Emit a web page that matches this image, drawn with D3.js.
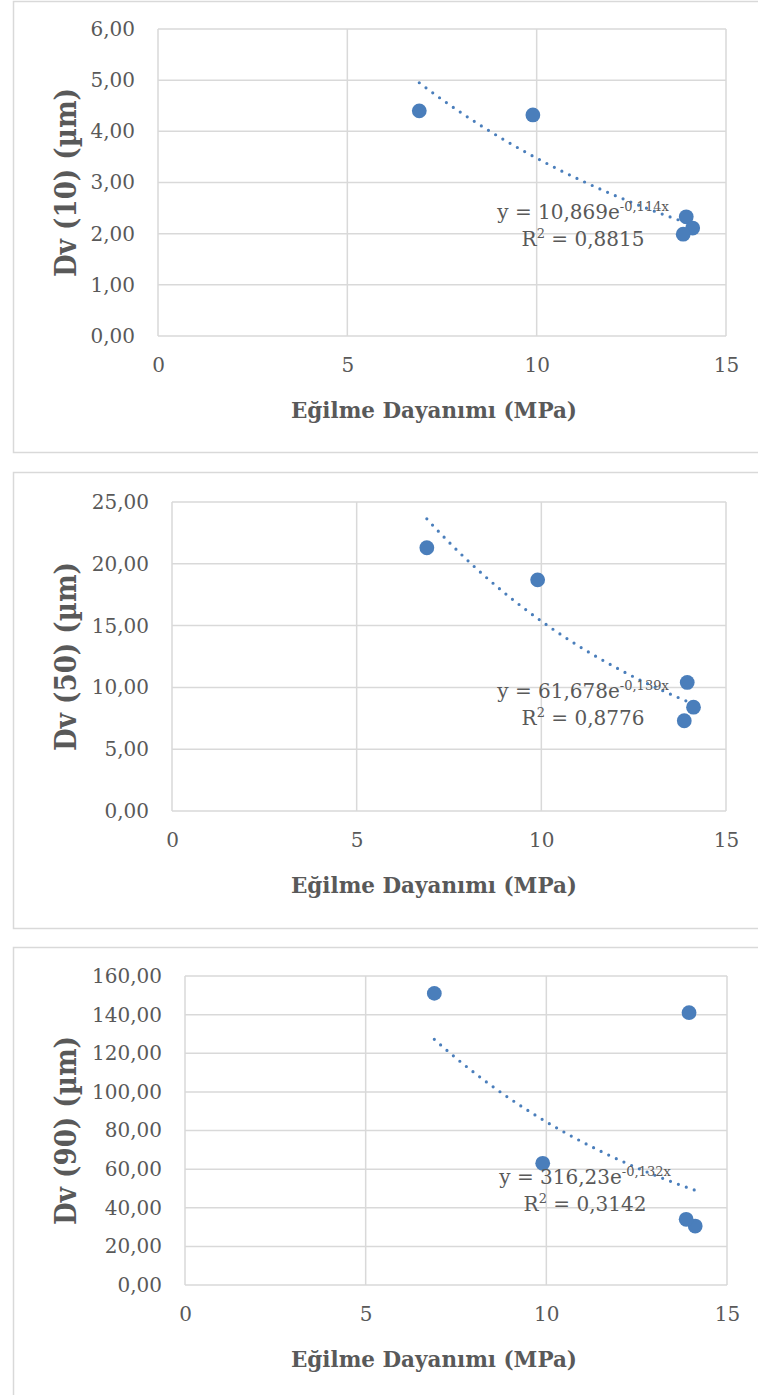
<!DOCTYPE html>
<html>
<head>
<meta charset="utf-8">
<script src="https://cdn.jsdelivr.net/npm/d3@7"></script>
<style>
  html, body { margin: 0; padding: 0; background: #fff; }
  svg { display: block; }
  text { font-family: "DejaVu Serif", "Liberation Serif", serif; fill: #595959; }
</style>
</head>
<body>
<svg id="chart" width="758" height="1395"></svg>
<script>
// Flexural strength of each sample (MPa), shared by all three panels
const strength = [6.9, 9.9, 13.95, 14.12, 13.87];

// Particle size percentiles (µm) per sample
const dv10 = [4.40, 4.32, 2.33, 2.11, 1.99];
const dv50 = [21.3, 18.7, 10.4, 8.4, 7.3];
const dv90 = [151.0, 63.0, 141.0, 30.5, 34.0];

// Exponential trend lines y = a·e^(b·x) and their R²
const trendA = [10.869, 61.678, 316.23];
const trendB = [-0.114, -0.139, -0.132];
const trendR2 = [0.8815, 0.8776, 0.3142];

// Axis settings
const yTitles = ["Dv (10) (µm)", "Dv (50) (µm)", "Dv (90) (µm)"];
const yMax = [6, 25, 160];
const yStep = [1, 5, 20];
const xTicks = [0, 5, 10, 15];
const xTitle = "Eğilme Dayanımı (MPa)";

const series = [dv10, dv50, dv90];

// Panel geometry (pixels)
const panels = [
  { frameTop: 1,   frameBottom: 452,  left: 158, top: 29,  right: 726, bottom: 336,  eqX: 583, eqY: 219 },
  { frameTop: 472, frameBottom: 928,  left: 172, top: 502, right: 726, bottom: 811,  eqX: 583, eqY: 698 },
  { frameTop: 947, frameBottom: 1440, left: 185, top: 976, right: 727, bottom: 1285, eqX: 585, eqY: 1184 }
];

const blue = "#4a7ebb";
const grid = "#d9d9d9";

const locale = d3.formatLocale({ decimal: ",", thousands: ".", grouping: [3], currency: ["", ""] });
const fmt2 = locale.format(".2f");
const fmtCoef = v => String(v).replace(".", ",");

const svg = d3.select("#chart");

panels.forEach((p, i) => {
  const g = svg.append("g");
  const values = series[i];

  // Outer frame
  g.append("rect")
    .attr("x", 13.5).attr("y", p.frameTop + 0.5)
    .attr("width", 800).attr("height", p.frameBottom - p.frameTop)
    .attr("fill", "none").attr("stroke", grid).attr("stroke-width", 1.5);

  const x = d3.scaleLinear().domain([0, 15]).range([p.left, p.right]);
  const y = d3.scaleLinear().domain([0, yMax[i]]).range([p.bottom, p.top]);
  const yTicks = d3.range(0, yMax[i] + yStep[i] / 2, yStep[i]);

  // Gridlines
  g.append("g").selectAll("line.h").data(yTicks).join("line")
    .attr("x1", p.left).attr("x2", p.right)
    .attr("y1", d => y(d)).attr("y2", d => y(d))
    .attr("stroke", grid).attr("stroke-width", 1.5);
  g.append("g").selectAll("line.v").data(xTicks).join("line")
    .attr("x1", d => x(d)).attr("x2", d => x(d))
    .attr("y1", p.top).attr("y2", p.bottom)
    .attr("stroke", grid).attr("stroke-width", 1.5);

  // Y axis labels
  const yAxis = d3.axisLeft(y).tickValues(yTicks).tickFormat(fmt2).tickSize(0).tickPadding(23);
  const ya = g.append("g").attr("transform", `translate(${p.left},0)`).call(yAxis);
  ya.select(".domain").remove();
  ya.selectAll("text").attr("font-size", 20).attr("fill", "#595959")
    .attr("font-family", "DejaVu Serif");

  // X axis labels
  const xAxis = d3.axisBottom(x).tickValues(xTicks).tickFormat(d3.format("d")).tickSize(0).tickPadding(22);
  const xa = g.append("g").attr("transform", `translate(0,${p.bottom})`).call(xAxis);
  xa.select(".domain").remove();
  xa.selectAll("text").attr("font-size", 20).attr("fill", "#595959")
    .attr("font-family", "DejaVu Serif");

  // Axis titles
  g.append("text")
    .attr("x", 434).attr("y", p.bottom + 82)
    .attr("text-anchor", "middle")
    .attr("font-size", 22).attr("font-weight", "bold")
    .attr("textLength", 286).attr("lengthAdjust", "spacingAndGlyphs")
    .text(xTitle);

  const cy = (p.top + p.bottom) / 2;
  g.append("text")
    .attr("transform", `translate(76,${cy}) rotate(-90)`)
    .attr("text-anchor", "middle")
    .attr("font-size", 30).attr("font-weight", "bold")
    .attr("textLength", 189).attr("lengthAdjust", "spacingAndGlyphs")
    .text(yTitles[i]);

  // Exponential trend line over the data range
  const [x0, x1] = d3.extent(strength);
  const trendPts = d3.range(0, 101).map(k => {
    const xv = x0 + (x1 - x0) * k / 100;
    return [xv, trendA[i] * Math.exp(trendB[i] * xv)];
  });
  g.append("path")
    .attr("d", d3.line().x(d => x(d[0])).y(d => y(d[1]))(trendPts))
    .attr("fill", "none").attr("stroke", blue)
    .attr("stroke-width", 3.2).attr("stroke-linecap", "round")
    .attr("stroke-dasharray", "0 8.4");

  // Data points
  g.append("g").selectAll("circle").data(strength).join("circle")
    .attr("cx", d => x(d)).attr("cy", (d, k) => y(values[k]))
    .attr("r", 7.4).attr("fill", blue);

  // Trend equation label
  const eq = g.append("text")
    .attr("x", p.eqX).attr("y", p.eqY)
    .attr("text-anchor", "middle").attr("font-size", 20);
  eq.append("tspan").text(`y = ${fmtCoef(trendA[i])}e`);
  eq.append("tspan").attr("dy", -8).attr("font-size", 13).text(`${fmtCoef(trendB[i])}x`);

  const r2 = g.append("text")
    .attr("x", p.eqX).attr("y", p.eqY + 27)
    .attr("text-anchor", "middle").attr("font-size", 20);
  r2.append("tspan").text("R");
  r2.append("tspan").attr("dy", -8).attr("font-size", 13).text("2");
  r2.append("tspan").attr("dy", 8).text(` = ${fmtCoef(trendR2[i])}`);
});
</script>
</body>
</html>
